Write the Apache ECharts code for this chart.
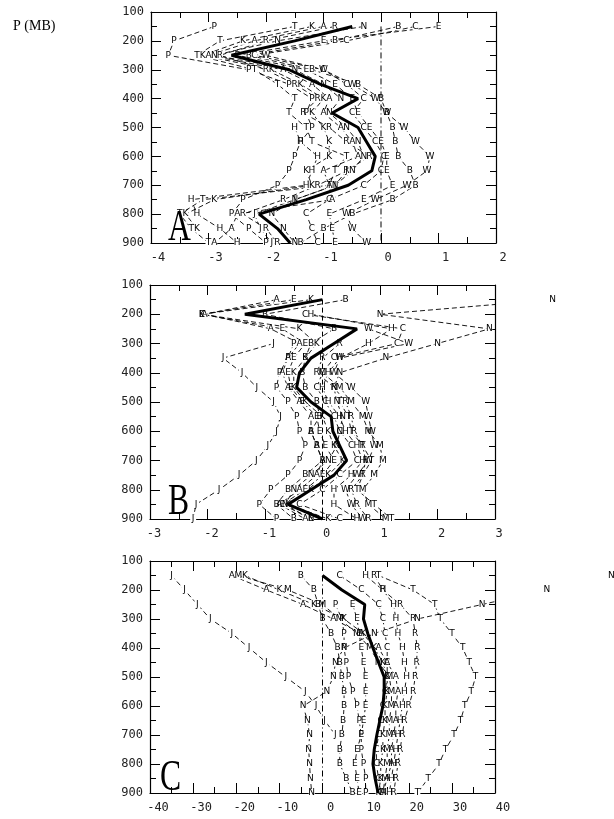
<!DOCTYPE html>
<html><head><meta charset="utf-8">
<script src="https://cdn.jsdelivr.net/npm/echarts@6/dist/echarts.min.js"></script>
<style>html,body{margin:0;padding:0;background:#fff}#c{width:614px;height:819px}</style>
</head><body><div id="c"></div>
<script>
// Pressure levels (mb) shared by all profiles
const LEVELS = [150,200,250,300,350,400,450,500,550,600,650,700,750,800,850,900];
const P_TICKS = [100,200,300,400,500,600,700,800,900];
const X_TICKS_A = [-4,-3,-2,-1,0,1,2];
const X_TICKS_B = [-3,-2,-1,0,1,2,3];
const X_TICKS_C = [-40,-30,-20,-10,0,10,20,30,40];

// Panel A profiles
const A_mean = [-0.5,-1.5,-2.6,-1.6,-1.06,-0.4,-0.85,-0.4,-0.25,-0.1,-0.16,-0.57,-1.3,-2.12,-1.8,-1.58];
const A_E = [1.0,-1.0,-2.5,-1.3,-0.8,-0.5,-0.4,-0.2,0.0,0.1,0.1,0.2,-0.3,-0.9,-0.85,-0.8];
const A_B = [0.3,-0.8,-2.3,-1.2,-0.4,0.0,0.1,0.2,0.25,0.3,0.5,0.6,0.2,-0.5,-1.0,-1.4];
const A_W = [null,null,-2.0,-1.0,-0.5,-0.1,0.1,0.4,0.6,0.85,0.8,0.45,-0.1,-0.6,-0.5,-0.25];
const A_R = [-0.8,-2.0,-2.8,-2.0,-1.5,-1.1,-1.35,-0.9,-0.6,-0.2,-0.6,-1.1,-1.7,-2.4,-2.0,-1.8];
const A_A = [-1.0,-2.2,-3.0,-1.7,-1.2,-0.9,-1.0,-0.7,-0.5,-0.4,-1.0,-0.9,-0.85,-2.5,-2.6,-2.9];
const A_T = [-1.5,-2.8,-3.2,-2.2,-1.8,-1.5,-1.6,-1.3,-1.2,-0.6,-0.8,-0.9,-3.1,-3.5,-3.3,-3.0];
const A_P = [-2.9,-3.6,-3.7,-2.3,-1.6,-1.2,-1.3,-1.2,-1.4,-1.5,-1.6,-1.8,-2.4,-2.6,-2.3,-2.0];
const A_N = [-0.3,-1.8,-2.9,-1.5,-1.0,-0.7,-0.9,-0.6,-0.4,-0.3,-0.5,-0.8,-1.5,-1.9,-1.7,-1.5];
const A_C = [0.6,-0.6,-2.2,-1.0,-0.6,-0.3,-0.5,-0.3,-0.1,0.05,0.0,-0.3,-0.9,-1.3,-1.2,-1.1];
const A_H = [null,null,null,null,null,null,null,-1.5,-1.4,-1.1,-1.2,-1.3,-3.3,-3.2,-2.8,-2.5];
const A_J = [null,null,null,null,null,null,null,null,null,null,-0.6,-0.8,-1.5,-2.2,-2.1,-1.9];
const A_K = [-1.2,-2.4,-3.1,-1.9,-1.4,-1.0,-1.2,-1.0,-0.9,-0.9,-1.3,-1.2,-2.9,-3.4,-3.2,null];

// Panel B profiles
const B_mean = [0.0,-1.35,0.6,0.2,-0.2,-0.4,-0.45,-0.2,0.15,0.18,0.3,0.42,0.2,-0.2,-0.6,0.0];
const B_E = [-0.5,-2.1,-0.7,-0.3,-0.5,-0.6,-0.55,-0.35,-0.1,-0.05,0.05,0.2,0.0,-0.3,-0.7,-0.2];
const B_K = [-0.2,-2.1,-0.4,-0.1,-0.3,-0.5,-0.5,-0.3,0.0,0.1,0.2,0.35,0.1,-0.2,-0.6,0.1];
const B_A = [-0.8,-2.05,-0.9,-0.4,-0.6,-0.7,-0.6,-0.4,-0.2,-0.2,-0.1,0.0,-0.1,-0.4,-0.75,-0.3];
const B_B = [0.4,-1.0,0.2,-0.2,-0.3,-0.35,-0.3,-0.1,-0.05,-0.2,-0.1,0.0,-0.3,-0.6,-0.8,-0.5];
const B_N = [4.0,1.0,2.9,2.0,1.1,0.3,0.2,0.25,0.35,0.3,0.25,0.1,-0.2,-0.5,-0.65,-0.2];
const B_C = [null,-0.3,1.4,1.3,0.2,0.0,-0.1,0.05,0.2,0.3,0.5,0.6,0.3,0.0,-0.4,0.3];
const B_H = [null,-0.2,1.2,0.8,0.3,0.1,0.0,0.1,0.3,0.4,0.6,0.7,0.5,0.2,0.2,0.6];
const B_W = [null,null,0.8,1.5,0.3,0.2,0.5,0.75,0.8,0.85,0.9,0.8,0.6,0.4,0.5,0.7];
const B_R = [null,null,null,0.3,0.0,-0.1,0.2,0.4,0.5,0.55,0.7,0.75,0.7,0.5,0.6,0.8];
const B_M = [null,null,null,null,null,0.0,0.3,0.5,0.7,0.8,1.0,1.05,0.9,0.7,0.8,1.1];
const B_T = [null,null,null,null,null,null,null,0.3,0.45,0.5,0.7,0.85,0.7,0.6,0.9,1.2];
const B_P = [null,null,null,-0.5,-0.6,-0.75,-0.8,-0.6,-0.45,-0.4,-0.3,-0.4,-0.6,-0.9,-1.1,-0.8];
const B_J = [null,null,null,-0.85,-1.73,-1.4,-1.14,-0.85,-0.73,-0.8,-0.95,-1.15,-1.45,-1.8,-2.2,-2.25];

// Panel C profiles
const C_mean = [0,4.5,9.8,9.5,10.5,11.7,13,14.3,14.3,14,13.3,12.6,12,11.7,12.2,12.9];
const C_J = [-35,-32,-29,-26,-21,-17,-13,-8.5,-4,-1.5,0.5,3,null,null,null,null];
const C_N = [67,52,37,22,12,5,3,2.5,1,-4.5,-3.5,-3,-3.2,-3,-2.8,-2.5];
const C_T = [13,21,26,27.3,30,32.5,34,35.5,34.5,33,32,30.5,28.5,27,24.5,22];
const C_R = [12,14,18,21,21.5,22,21.8,21.5,21,20,19,18.5,18,17.5,17,16.5];
const C_H = [10,14,16.5,17,17.5,18.5,19,19.5,19,18.5,18,17.5,17,16.5,16,15.5];
const C_M = [-19.5,-8,0,4,8,11,13,15.5,16,16,15.5,15.5,15,15,14.5,14];
const C_A = [-21,-13,-4.5,2.5,9,13,15,17,17.5,17,17,16.5,16,16,15,14];
const C_K = [-18,-10,-2,5,9.5,12,14,15,15,14.5,14.5,14,14,13.5,13.5,13];
const C_B = [-5,-2,-1,0,2,3.5,4,4.5,5,5,4.8,4.5,4,4,5.5,7];
const C_P = [null,null,3,4.5,5,5,5.5,6,7,8,8.5,9,9,9.5,10,10];
const C_E = [null,null,7,8,8.5,9,9.5,10,10,10,9.5,9,8,7.5,8,8.5];
const C_C = [4,9,13,14,14.5,15,15,15,14.5,14,13.5,13,12.5,12.5,13,13.5];

const chart = echarts.init(document.getElementById('c'), null, {renderer:'canvas'});

const grids = [
  {left:151, top:12, width:345, height:231},
  {left:150, top:285, width:345, height:234},
  {left:150, top:561, width:345, height:232}
];
const xr = [
  {min:-4, max:2, interval:1, pad:7, ticks:X_TICKS_A},
  {min:-3, max:3, interval:1, pad:4, ticks:X_TICKS_B},
  {min:-40, max:40, interval:10, pad:8, ticks:X_TICKS_C}
];

const xAxis = [], yAxis = [];
grids.forEach((g, i) => {
  const r = xr[i];
  const tick = {show:true, inside:true, length:10, lineStyle:{color:'#000', width:1}};
  const minor = {show:true, splitNumber:2, length:6, lineStyle:{color:'#000', width:1}};
  const line = {show:true, onZero:false, lineStyle:{color:'#000', width:1.2}};
  xAxis.push({gridIndex:i, type:'value', position:'bottom', min:r.min, max:r.max, interval:r.interval,
    axisLine:line, axisTick:tick, minorTick:minor, splitLine:{show:false},
    axisLabel:{show:true, margin:9, fontFamily:'DejaVu Sans Mono', fontSize:12, color:'#222',
      padding:[0,0,0,r.pad*2], customValues:r.ticks}});
  xAxis.push({gridIndex:i, type:'value', position:'top', min:r.min, max:r.max, interval:r.interval,
    axisLine:line, axisTick:tick, minorTick:minor, splitLine:{show:false}, axisLabel:{show:false}});
  yAxis.push({gridIndex:i, type:'value', position:'left', inverse:true, min:100, max:900, interval:100,
    axisLine:line, axisTick:tick, minorTick:minor, splitLine:{show:false},
    axisLabel:{show:true, margin:7, fontFamily:'DejaVu Sans Mono', fontSize:12, color:'#222', customValues:P_TICKS}});
  yAxis.push({gridIndex:i, type:'value', position:'right', inverse:true, min:100, max:900, interval:100,
    axisLine:line, axisTick:tick, minorTick:minor, splitLine:{show:false}, axisLabel:{show:false}});
});

function pts(vals){
  const out = [];
  vals.forEach((v, k) => { if (v !== null) out.push([v, LEVELS[k]]); });
  return out;
}
function lettered(panel, letter, vals, clip){
  return {type:'line', xAxisIndex:panel*2, yAxisIndex:panel*2, data:pts(vals), clip:clip!==false,
    symbol:'rect', symbolSize:[6,8], itemStyle:{color:'#fff', borderWidth:0},
    lineStyle:{color:'#000', width:0.9, type:[5,3]},
    label:{show:true, position:'inside', formatter:letter, fontFamily:'DejaVu Sans', fontSize:9, color:'#000'},
    emphasis:{disabled:true}, silent:true, z:2};
}
function mean(panel, vals){
  return {type:'line', xAxisIndex:panel*2, yAxisIndex:panel*2, data:pts(vals), symbol:'none',
    lineStyle:{color:'#000', width:3}, emphasis:{disabled:true}, silent:true, z:10};
}
function zeroLine(panel, dash){
  return {type:'line', xAxisIndex:panel*2, yAxisIndex:panel*2, data:[[0,150],[0,900]], symbol:'none',
    lineStyle:{color:'#000', width:1, type:dash}, emphasis:{disabled:true}, silent:true, z:3};
}

const series = [
  zeroLine(0, [6,3,1,3]),
  lettered(0,'P',A_P), lettered(0,'T',A_T), lettered(0,'K',A_K), lettered(0,'A',A_A), lettered(0,'R',A_R),
  lettered(0,'N',A_N), lettered(0,'C',A_C), lettered(0,'E',A_E), lettered(0,'B',A_B), lettered(0,'W',A_W),
  lettered(0,'H',A_H), lettered(0,'J',A_J),
  mean(0, A_mean),

  zeroLine(1, [5,3]),
  lettered(1,'J',B_J), lettered(1,'P',B_P), lettered(1,'A',B_A), lettered(1,'E',B_E), lettered(1,'K',B_K),
  lettered(1,'B',B_B), lettered(1,'N',B_N,false), lettered(1,'C',B_C), lettered(1,'H',B_H), lettered(1,'W',B_W),
  lettered(1,'R',B_R), lettered(1,'M',B_M), lettered(1,'T',B_T),
  mean(1, B_mean),

  zeroLine(2, [6,3,1,3]),
  lettered(2,'J',C_J), lettered(2,'N',C_N,false), lettered(2,'B',C_B), lettered(2,'M',C_M), lettered(2,'A',C_A),
  lettered(2,'K',C_K), lettered(2,'P',C_P), lettered(2,'E',C_E), lettered(2,'C',C_C), lettered(2,'H',C_H),
  lettered(2,'R',C_R), lettered(2,'T',C_T),
  mean(2, C_mean)
];

const letterStyle = {font:'44px "Liberation Serif", "DejaVu Serif", serif', fill:'#000', textAlign:'left', textVerticalAlign:'middle'};
const graphic = [
  {type:'text', left:13, top:19, style:{text:'P (MB)', font:'14px "Liberation Serif", serif', fill:'#000'}},
  {type:'text', x:168, y:228, scaleX:0.72, z:20, style:Object.assign({text:'A'}, letterStyle)},
  {type:'text', x:168, y:502, scaleX:0.72, z:20, style:Object.assign({text:'B'}, letterStyle)},
  {type:'text', x:160, y:778, scaleX:0.72, z:20, style:Object.assign({text:'C'}, letterStyle)}
];

chart.setOption({animation:false, backgroundColor:'#fff', grid:grids, xAxis, yAxis, series, graphic});
</script>
</body></html>
